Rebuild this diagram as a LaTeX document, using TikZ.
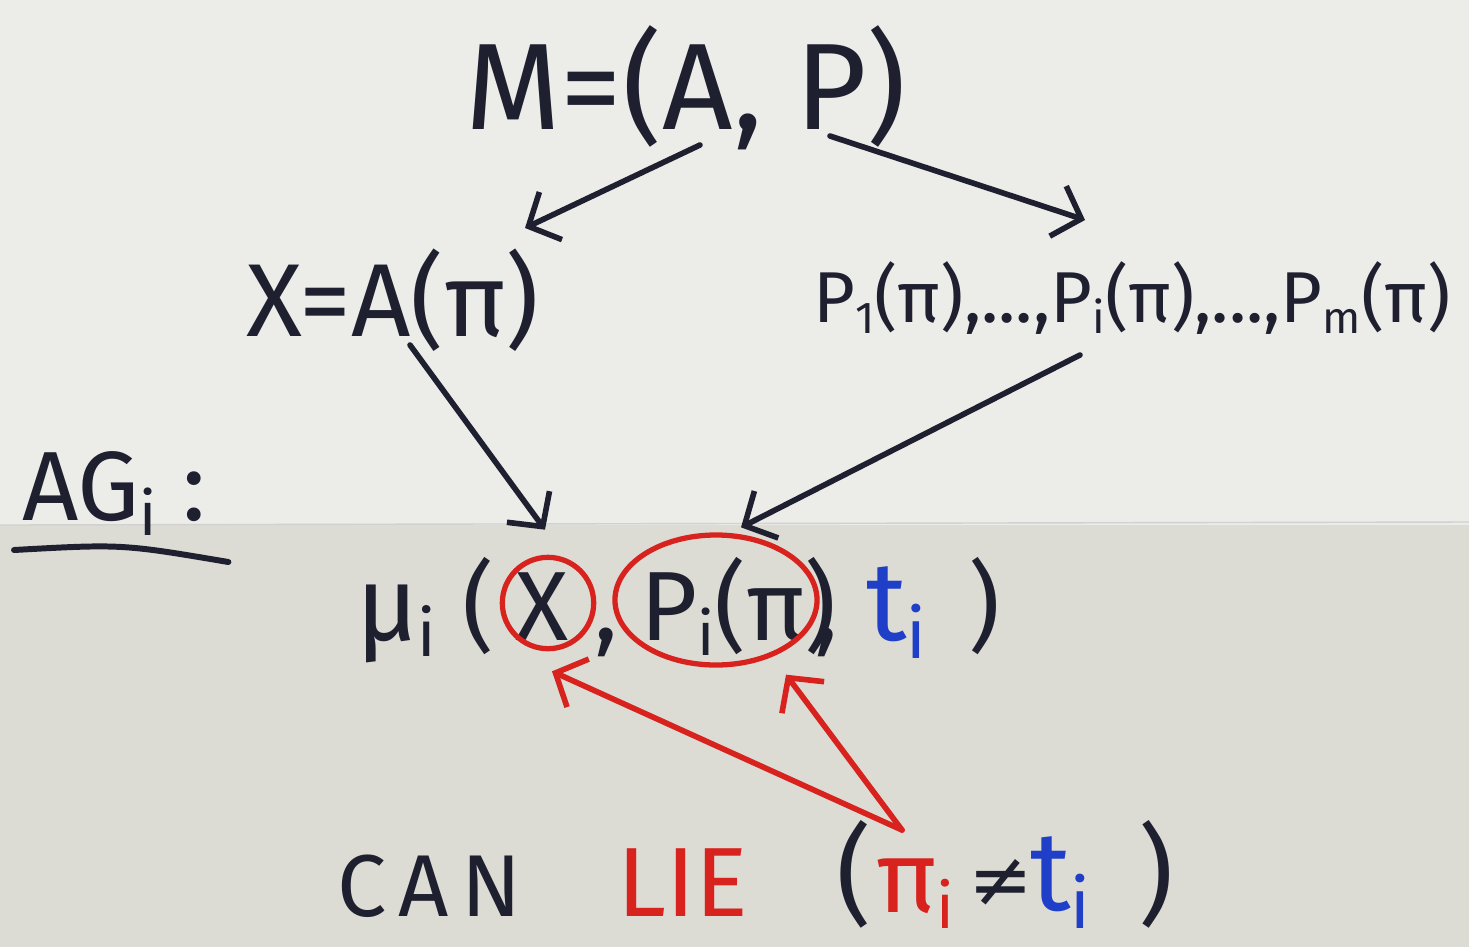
\documentclass[tikz,border=0pt]{standalone}
\usepackage{fontspec}
\setmainfont{Fira Sans}
\newfontfamily\dv{DejaVu Sans}
\usetikzlibrary{arrows.meta,shapes.geometric,calc}
\definecolor{ink}{HTML}{1E2030}
\definecolor{rink}{HTML}{D8221E}
\definecolor{bink}{HTML}{1F3FC8}
\definecolor{boardtop}{HTML}{ECECE9}
\definecolor{boardbot}{HTML}{DCDCD4}
\newcommand{\fs}[1]{\fontsize{#1}{#1}\selectfont}
\newcommand{\low}[1]{\raisebox{-0.16em}{\scalebox{0.62}{#1}}}
\begin{document}
\begin{tikzpicture}[x=0.02cm,y=-0.02cm,
  txt/.style={inner sep=0pt,outer sep=0pt,text=ink,font=\fs{56pt}},
  chain/.style={txt,anchor=base west},
  arr/.style={draw=ink,line width=3.2pt,line cap=round,
    -{Straight Barb[length=14pt,width=30pt,line width=3.2pt]}},
  rarr/.style={arr,draw=rink},
  ring/.style={draw=rink,line width=3pt,inner sep=0pt}]
\useasboundingbox (0,0) rectangle (1469,947);
\fill[boardtop] (0,0) rectangle (1469,525);
\fill[boardbot] (0,525) rectangle (1469,947);
\draw[black!18,line width=0.8pt] (0,525) -- (1469,522);

% top
\node[txt,font=\fs{70pt}] (M) at (686,88) {M=(A, P)};
\node[txt,font=\fs{59pt}] (X) at (393,300) {X=A(π)};
\node[txt,font=\fs{41pt}] (P) at (1132,298) {P\low{1}(π),...,P\low{i}(π),...,P\low{m}(π)};

% AG_i
\node[chain] (AG) at (22,520) {AG\low{i} :};
\draw[ink,line width=3.4pt,line cap=round] ($(AG.base west)+(-8,30)$) .. controls ($(AG.base west)+(100,24)$) .. ($(AG.base east)+(22,42)$);

% mechanism expression
\node[chain,font=\fs{60pt}] (mu) at (356,640) {μ\low{i}};
\node[chain] (op1) at (462,640) {(};
\node[chain] (x) at (515,640) {X};
\node[chain] (c1) at (594,640) {,};
\node[chain] (p) at (640,640) {P\low{i}(π)};
\node[chain] (c2) at (814,640) {,};
\node[chain,text=bink,font=\fs{64pt}] (t) at (866,640) {t\low{i}};
\node[chain] (cl) at (968,640) {)};
\node[ring,circle,minimum size=52pt] (xr) at (548,603) {};
\node[ring,ellipse,minimum width=115pt,minimum height=74pt] (pr) at (716,600) {};

% bottom line
\node[chain,font=\fs{50pt}\addfontfeature{LetterSpace=14}] (can) at (337,916) {CAN};
\node[chain,text=rink] (lie) at (617,916) {LIE};
\node[chain,font=\fs{62pt}] (op) at (836,912) {(};
\node[chain,text=rink,font=\fs{58pt}] (pi) at (876,912) {π\low{i}};
\node[chain,font=\dv\fs{44pt}] (ne) at (968,906) {≠};
\node[chain,text=bink,font=\fs{64pt}] (ti) at (1030,910) {t\low{i}};
\node[chain,font=\fs{62pt}] (cp) at (1138,912) {)};

% connectors
\draw[arr] ($(M.center)+(14,57)$) -- ($(X.center)+(132,-72)$);
\draw[arr] ($(M.center)+(144,48)$) -- ($(P.center)+(-47,-78)$);
\draw[arr] ($(X.center)+(17,45)$) -- ($(xr.north)+(-3,-25)$);
\draw[arr] ($(P.center)+(-52,57)$) -- ($(pr.north)+(25,-5)$);
\draw[rarr] ($(pi.base west)+(26,-82)$) -- ($(xr.south)+(4,20)$);
\draw[rarr] ($(pi.base west)+(26,-82)$) -- ($(pr.south)+(70,7)$);
\end{tikzpicture}
\end{document}
